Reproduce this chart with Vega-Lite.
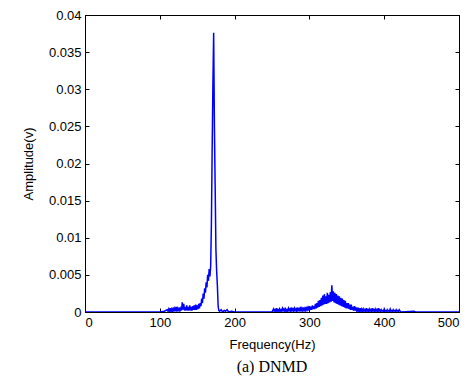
{
  "$schema": "https://vega.github.io/schema/vega-lite/v6.json",
  "width": 374,
  "height": 297,
  "autosize": {"type": "none"},
  "padding": {"left": 85, "top": 15, "right": 17, "bottom": 70},
  "background": "white",
  "config": {
    "view": {"stroke": "black", "strokeWidth": 1},
    "axis": {"labelFont": "Liberation Sans", "titleFont": "Liberation Sans", "labelFontSize": 13, "titleFontSize": 13, "titleFontWeight": "normal", "labelColor": "black", "titleColor": "black", "domainColor": "black", "tickColor": "black", "grid": false}
  },
  "title": {"text": "(a) DNMD", "orient": "bottom", "font": "Liberation Serif", "fontSize": 16, "fontWeight": "normal", "color": "black", "offset": 8},
  "data": {"values": [
    {"f":0,"a":0},{"f":100,"a":0},{"f":106,"a":0.0001},{"f":110,"a":0.0003},{"f":111,"a":0.0001},{"f":112,"a":0.0004},{"f":113,"a":0.0001},{"f":114,"a":0.0005},{"f":115,"a":0.0001},{"f":116,"a":0.0004},{"f":117,"a":0.0001},{"f":118,"a":0.0006},{"f":119,"a":0.0002},{"f":120,"a":0.0005},{"f":121,"a":0.0001},{"f":122,"a":0.0007},{"f":123,"a":0.0002},{"f":124,"a":0.0005},{"f":125,"a":0.0001},{"f":126,"a":0.0006},{"f":127,"a":0.0002},{"f":128,"a":0.0005},{"f":129,"a":0.0002},{"f":130,"a":0.0013},{"f":131,"a":0.0003},{"f":132,"a":0.0011},{"f":133,"a":0.0002},{"f":134,"a":0.0007},{"f":135,"a":0.0002},{"f":136,"a":0.0009},{"f":137,"a":0.0002},{"f":138,"a":0.0007},{"f":139,"a":0.0002},{"f":140,"a":0.0009},{"f":141,"a":0.0002},{"f":142,"a":0.0007},{"f":143,"a":0.0002},{"f":144,"a":0.0008},{"f":145,"a":0.0003},{"f":146,"a":0.0009},{"f":147,"a":0.0003},{"f":148,"a":0.001},{"f":149,"a":0.0003},{"f":150,"a":0.0009},{"f":151,"a":0.0004},{"f":152,"a":0.0011},{"f":153,"a":0.0005},{"f":154,"a":0.0012},{"f":155,"a":0.0008},{"f":156,"a":0.0018},{"f":157,"a":0.0012},{"f":158,"a":0.0025},{"f":159,"a":0.0018},{"f":160,"a":0.0032},{"f":161,"a":0.0026},{"f":162,"a":0.004},{"f":163,"a":0.0033},{"f":164,"a":0.005},{"f":165,"a":0.0042},{"f":166,"a":0.0058},{"f":167,"a":0.0048},{"f":168,"a":0.0062},{"f":169,"a":0.012},{"f":170,"a":0.022},{"f":171,"a":0.0306},{"f":172,"a":0.0376},{"f":173,"a":0.025},{"f":174,"a":0.017},{"f":175,"a":0.0085},{"f":176,"a":0.0055},{"f":177,"a":0.0035},{"f":178,"a":0.0008},{"f":179,"a":0.0002},{"f":180,"a":0.0001},{"f":182,"a":0.0003},{"f":184,"a":0},{"f":186,"a":0.0002},{"f":188,"a":0.0001},{"f":190,"a":0.0003},{"f":192,"a":0},{"f":196,"a":0.0001},{"f":200,"a":0},{"f":250,"a":0},
    {"f":252,"a":0.0004},{"f":253,"a":0.0001},{"f":254,"a":0.0003},{"f":255,"a":0.0001},{"f":256,"a":0.0005},{"f":257,"a":0.0001},{"f":258,"a":0.0003},{"f":259,"a":0.0001},{"f":260,"a":0.0004},{"f":261,"a":0.0001},{"f":262,"a":0.0003},{"f":263,"a":0.0001},{"f":264,"a":0.0005},{"f":265,"a":0.0002},{"f":266,"a":0.0004},{"f":267,"a":0.0001},{"f":268,"a":0.0004},{"f":269,"a":0.0001},{"f":270,"a":0.0003},{"f":271,"a":0.0001},{"f":272,"a":0.0005},{"f":273,"a":0.0002},{"f":274,"a":0.0004},{"f":275,"a":0.0001},{"f":276,"a":0.0006},{"f":277,"a":0.0002},{"f":278,"a":0.0004},{"f":279,"a":0.0001},{"f":280,"a":0.0005},{"f":281,"a":0.0002},{"f":282,"a":0.0004},{"f":283,"a":0.0001},{"f":284,"a":0.0006},{"f":285,"a":0.0002},{"f":286,"a":0.0004},{"f":287,"a":0.0002},{"f":288,"a":0.0007},{"f":289,"a":0.0002},{"f":290,"a":0.0005},{"f":291,"a":0.0002},{"f":292,"a":0.0006},{"f":293,"a":0.0002},{"f":294,"a":0.0005},{"f":295,"a":0.0002},{"f":296,"a":0.0007},{"f":297,"a":0.0003},{"f":298,"a":0.0006},{"f":299,"a":0.0002},{"f":300,"a":0.0008},{"f":301,"a":0.0003},{"f":302,"a":0.0007},{"f":303,"a":0.0003},{"f":304,"a":0.0009},{"f":305,"a":0.0004},{"f":306,"a":0.0008},{"f":307,"a":0.0004},{"f":308,"a":0.0011},{"f":309,"a":0.0005},{"f":310,"a":0.0012},{"f":311,"a":0.0006},{"f":312,"a":0.0015},{"f":313,"a":0.0007},{"f":314,"a":0.0016},{"f":315,"a":0.0008},{"f":316,"a":0.0019},{"f":317,"a":0.0009},{"f":318,"a":0.0022},{"f":319,"a":0.001},{"f":320,"a":0.0024},{"f":321,"a":0.0011},{"f":322,"a":0.0021},{"f":323,"a":0.0011},{"f":324,"a":0.0026},{"f":325,"a":0.0012},{"f":326,"a":0.0023},{"f":327,"a":0.0013},{"f":328,"a":0.0027},{"f":329,"a":0.0014},{"f":330,"a":0.0036},{"f":331,"a":0.0015},{"f":332,"a":0.0028},{"f":333,"a":0.0013},{"f":334,"a":0.0026},{"f":335,"a":0.0012},{"f":336,"a":0.0024},{"f":337,"a":0.0011},{"f":338,"a":0.0022},{"f":339,"a":0.001},{"f":340,"a":0.0021},{"f":341,"a":0.0009},{"f":342,"a":0.0019},{"f":343,"a":0.0008},{"f":344,"a":0.0018},{"f":345,"a":0.0007},{"f":346,"a":0.0016},{"f":347,"a":0.0006},{"f":348,"a":0.0015},{"f":349,"a":0.0005},{"f":350,"a":0.0012},{"f":351,"a":0.0005},{"f":352,"a":0.0012},{"f":353,"a":0.0004},{"f":354,"a":0.001},{"f":355,"a":0.0003},{"f":356,"a":0.001},{"f":357,"a":0.0003},{"f":358,"a":0.0007},{"f":359,"a":0.0002},{"f":360,"a":0.0008},{"f":361,"a":0.0002},{"f":362,"a":0.0005},{"f":363,"a":0.0002},{"f":364,"a":0.0006},{"f":365,"a":0.0001},{"f":366,"a":0.0004},{"f":367,"a":0.0001},{"f":368,"a":0.0005},{"f":369,"a":0.0001},{"f":370,"a":0.0004},{"f":371,"a":0.0001},{"f":372,"a":0.0004},{"f":373,"a":0.0001},{"f":374,"a":0.0003},{"f":375,"a":0.0001},{"f":376,"a":0.0005},{"f":377,"a":0.0001},{"f":378,"a":0.0003},{"f":379,"a":0.0001},{"f":380,"a":0.0004},{"f":381,"a":0.0001},{"f":382,"a":0.0003},{"f":383,"a":0.0001},{"f":384,"a":0.0005},{"f":385,"a":0.0001},{"f":386,"a":0.0003},{"f":387,"a":0.0001},{"f":388,"a":0.0004},{"f":389,"a":0.0001},{"f":390,"a":0.0003},{"f":391,"a":0.0001},{"f":392,"a":0.0005},{"f":393,"a":0.0001},{"f":394,"a":0.0003},{"f":395,"a":0.0001},{"f":396,"a":0.0003},{"f":397,"a":0.0001},{"f":398,"a":0.0002},{"f":399,"a":0.0001},{"f":400,"a":0.0004},{"f":401,"a":0.0001},{"f":402,"a":0.0002},{"f":403,"a":0.0001},{"f":404,"a":0.0003},{"f":405,"a":0.0001},{"f":406,"a":0.0002},{"f":407,"a":0.0001},{"f":408,"a":0.0004},{"f":409,"a":0.0001},{"f":410,"a":0.0002},{"f":411,"a":0.0001},{"f":412,"a":0.0003},{"f":413,"a":0.0001},{"f":414,"a":0.0002},{"f":415,"a":0.0001},{"f":416,"a":0.0003},{"f":417,"a":0.0001},{"f":418,"a":0.0002},{"f":419,"a":0.0001},{"f":420,"a":0.0003},{"f":422,"a":0},{"f":440,"a":0.0001},{"f":442,"a":0},{"f":500,"a":0}
  ]},
  "layer": [
    {
      "mark": {"type": "line", "color": "#0000ff", "strokeWidth": 1.5, "clip": true},
      "encoding": {
        "x": {"field": "f", "type": "quantitative", "scale": {"domain": [0, 500], "nice": false}, "axis": {"title": "Frequency(Hz)", "values": [0,100,200,300,400,500], "tickSize": -4, "labelPadding": 8, "titlePadding": 9}},
        "y": {"field": "a", "type": "quantitative", "scale": {"domain": [0, 0.04], "nice": false}, "axis": {"title": "Amplitude(v)", "values": [0,0.005,0.01,0.015,0.02,0.025,0.03,0.035,0.04], "format": "~g", "tickSize": -4, "labelPadding": 8, "titlePadding": 13}}
      }
    },
    {
      "mark": {"type": "line", "opacity": 0},
      "encoding": {
        "x": {"field": "f", "type": "quantitative", "scale": {"domain": [0, 500], "nice": false}, "axis": {"orient": "top", "title": null, "labels": false, "values": [0,100,200,300,400,500], "tickSize": -4}},
        "y": {"field": "a", "type": "quantitative", "scale": {"domain": [0, 0.04], "nice": false}, "axis": {"orient": "right", "title": null, "labels": false, "values": [0,0.005,0.01,0.015,0.02,0.025,0.03,0.035,0.04], "tickSize": -4}}
      }
    }
  ],
  "resolve": {"axis": {"x": "independent", "y": "independent"}}
}
